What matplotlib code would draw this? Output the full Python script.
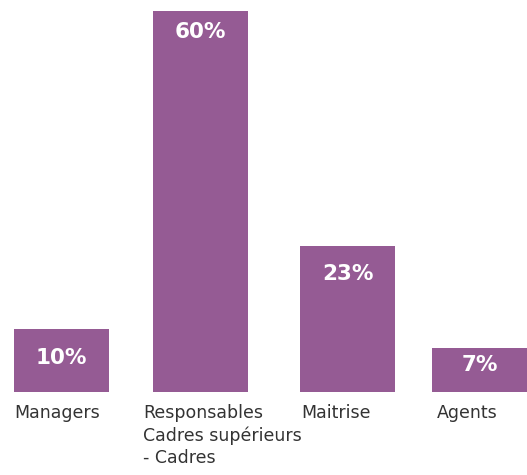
import matplotlib.pyplot as plt

categories = ['Managers', 'Responsables\nCadres supérieurs\n- Cadres', 'Maitrise', 'Agents']
values = [10, 60, 23, 7]
value_labels = ['10%', '60%', '23%', '7%']

# layout (pixel units of the 527x475 picture)
bar_left = [14, 153, 300, 432]
label_left = [14, 143, 301, 437]
label_drop = [30, 21, 28, 17]   # px from bar top to centre of the value label
bar_w = 95
px_per_pct = 6.35
base_px = 392

fig = plt.figure(figsize=(5.27, 4.75), dpi=100)
ax = fig.add_axes([0, 0, 1, 1])
ax.set_xlim(0, 527)
ax.set_ylim(-(475 - base_px) / px_per_pct, base_px / px_per_pct)
ax.axis('off')

color = '#955b94'
ax.bar(bar_left, values, width=bar_w, align='edge', color=color)

for x, v, lab, d in zip(bar_left, values, value_labels, label_drop):
    ax.annotate(lab, xy=(x + bar_w / 2, v), xytext=(0, -d * 0.72), textcoords='offset points',
                ha='center', va='center', color='white', fontsize=15.5, fontweight='bold',
                family='DejaVu Sans')

for x, cat in zip(label_left, categories):
    ax.annotate(cat, xy=(x, 0), xytext=(0, -9), textcoords='offset points',
                ha='left', va='top', color='#333333', fontsize=12.5, family='DejaVu Sans',
                linespacing=1.28)

fig.savefig('out.png', dpi=100)
